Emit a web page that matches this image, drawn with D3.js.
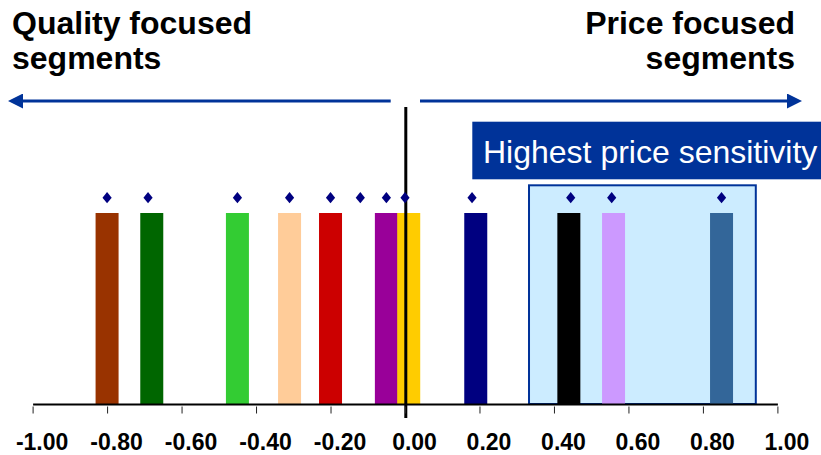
<!DOCTYPE html>
<html>
<head>
<meta charset="utf-8">
<script src="https://cdn.jsdelivr.net/npm/d3@7"></script>
<style>
  html, body { margin: 0; padding: 0; background: #fff; }
  svg { display: block; font-family: "Liberation Sans", Arial, sans-serif; }
</style>
</head>
<body>
<svg id="chart" width="821" height="455"></svg>
<script>
// Segment positions on the quality (-1) to price (+1) focus scale
const segmentNames = ["Segment A", "Segment B", "Segment C", "Segment D", "Segment E", "Segment F",
                      "Segment G", "Segment H", "Segment I", "Segment J", "Segment K"];
const segmentScores = [-0.80, -0.68, -0.45, -0.31, -0.20, -0.05, 0.01, 0.19, 0.44, 0.56, 0.85];
const segmentHeights = [100, 100, 100, 100, 100, 100, 100, 100, 100, 100, 100];
const segmentColors = ["#993300", "#006600", "#33CC33", "#FFCC99", "#CC0000", "#990099",
                       "#FFCC00", "#000080", "#000000", "#CC99FF", "#336699"];

// Marker series
const markerScores = [-0.80, -0.69, -0.45, -0.31, -0.20, -0.12, -0.05, 0.00, 0.18, 0.445, 0.555, 0.85];
const markerLevels = [108, 108, 108, 108, 108, 108, 108, 108, 108, 108, 108, 108];

// Axis ticks
const tickValues = [-1, -0.8, -0.6, -0.4, -0.2, 0, 0.2, 0.4, 0.6, 0.8, 1];
const tickLabels = ["-1.00", "-0.80", "-0.60", "-0.40", "-0.20", "0.00", "0.20", "0.40", "0.60", "0.80", "1.00"];

// Highlighted price-sensitive range
const highlightRange = [0.333, 0.942];
const highlightTop = 114.5;
const highlightLabel = "Highest price sensitivity";

const headingLeft = ["Quality focused", "segments"];
const headingRight = ["Price focused", "segments"];

const svg = d3.select("#chart");
const navy = "#003399";

const x = d3.scaleLinear().domain([-1, 1]).range([32.6, 777.4]);
const y = d3.scaleLinear().domain([0, 100]).range([404, 213]);

// Highlight band
svg.append("rect")
  .attr("x", x(highlightRange[0]))
  .attr("y", y(highlightTop))
  .attr("width", x(highlightRange[1]) - x(highlightRange[0]))
  .attr("height", y(0) - y(highlightTop))
  .attr("fill", "#CCECFF")
  .attr("stroke", navy)
  .attr("stroke-width", 2);

// Bars
const barW = 23;
svg.append("g").selectAll("rect")
  .data(segmentScores.map((s, i) => ({ s, h: segmentHeights[i], c: segmentColors[i], n: segmentNames[i] })))
  .join("rect")
  .attr("x", d => x(d.s) - barW / 2)
  .attr("y", d => y(d.h))
  .attr("width", barW)
  .attr("height", d => y(0) - y(d.h))
  .attr("fill", d => d.c);

// Zero line
svg.append("line")
  .attr("x1", x(0) + 0.8).attr("x2", x(0) + 0.8)
  .attr("y1", 107).attr("y2", 418)
  .attr("stroke", "#000").attr("stroke-width", 3);

// Diamond markers
const dw = 4.6, dh = 5.6;
svg.append("g").selectAll("path")
  .data(markerScores.map((s, i) => ({ s, v: markerLevels[i] })))
  .join("path")
  .attr("d", d => {
    const cx = x(d.s), cy = y(d.v);
    return `M${cx},${cy - dh}L${cx + dw},${cy}L${cx},${cy + dh}L${cx - dw},${cy}Z`;
  })
  .attr("fill", "#000080");

// X axis
const axis = d3.axisBottom(x)
  .tickValues(tickValues)
  .tickFormat((d, i) => tickLabels[i])
  .tickSizeInner(7)
  .tickSizeOuter(0)
  .tickPadding(0);

const gx = svg.append("g")
  .attr("transform", `translate(0,${y(0)})`)
  .call(axis);
gx.select(".domain").attr("stroke", "#000").attr("stroke-width", 2);
gx.selectAll(".tick line").attr("y1", 2.5).attr("y2", 9.5).attr("stroke", "#222").attr("stroke-width", 1);
gx.selectAll(".tick text")
  .attr("y", 46)
  .attr("dy", 0)
  .attr("dx", 9)
  .attr("fill", "#000")
  .style("font-size", "23px")
  .style("font-weight", "bold")
  .style("font-family", "'Liberation Sans', Arial, sans-serif");

// Direction arrows
const defs = svg.append("defs");
["left", "right"].forEach(k => {
  defs.append("marker")
    .attr("id", "head-" + k)
    .attr("viewBox", "0 0 10 10")
    .attr("refX", 2).attr("refY", 5)
    .attr("markerWidth", 5).attr("markerHeight", 5)
    .attr("markerUnits", "strokeWidth")
    .attr("orient", "auto")
    .append("path")
    .attr("d", "M0,0L10,5L0,10Z")
    .attr("fill", navy);
});
svg.append("line")
  .attr("x1", 390.7).attr("x2", 20)
  .attr("y1", 101).attr("y2", 101)
  .attr("stroke", navy).attr("stroke-width", 3)
  .attr("marker-end", "url(#head-left)");
svg.append("line")
  .attr("x1", 420).attr("x2", 790)
  .attr("y1", 101).attr("y2", 101)
  .attr("stroke", navy).attr("stroke-width", 3)
  .attr("marker-end", "url(#head-right)");

// Headings
const headStyle = sel => sel
  .style("font-size", "32px")
  .style("font-weight", "bold")
  .attr("fill", "#000");
headingLeft.forEach((t, i) => {
  svg.append("text").attr("x", 12).attr("y", 34 + i * 35).text(t).call(headStyle);
});
headingRight.forEach((t, i) => {
  svg.append("text").attr("x", 795).attr("y", 34 + i * 35)
    .attr("text-anchor", "end").text(t).call(headStyle);
});

// Highlight label box
svg.append("rect")
  .attr("x", 472.3).attr("y", 121.7)
  .attr("width", 821 - 472.3).attr("height", 57.6)
  .attr("fill", navy);
svg.append("text")
  .attr("x", 483).attr("y", 163)
  .attr("fill", "#fff")
  .style("font-size", "32px")
  .text(highlightLabel);
</script>
</body>
</html>
